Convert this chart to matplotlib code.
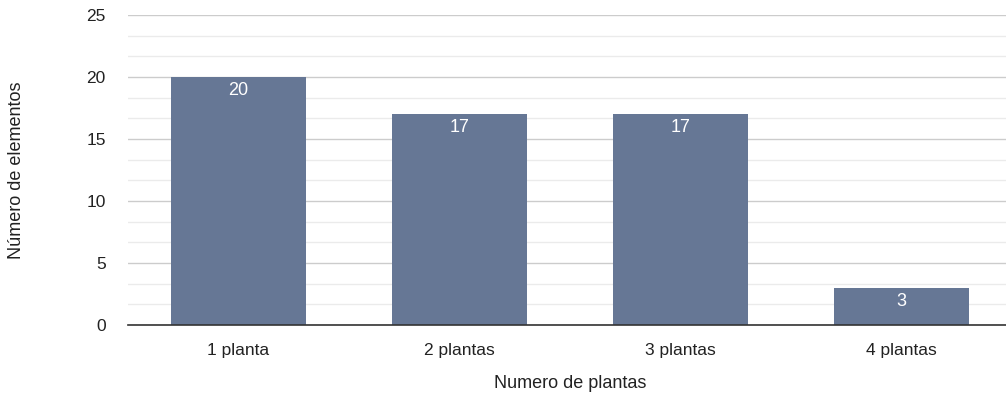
import matplotlib
matplotlib.use("Agg")
import matplotlib.pyplot as plt
import numpy as np
from matplotlib.ticker import MultipleLocator

categories = ["1 planta", "2 plantas", "3 plantas", "4 plantas"]
values = [20, 17, 17, 3]

plt.rcParams['font.family'] = ['Liberation Sans', 'DejaVu Sans']

fig = plt.figure(figsize=(10.06, 4.0), dpi=100)
ax = fig.add_axes([128/1006, 75/400, 884/1006, 310/400])

x = np.arange(len(categories))
bars = ax.bar(x, values, width=0.615, color="#667795", zorder=3)
for xi, v in zip(x, values):
    ax.text(xi, v - 0.4, str(v), ha="center", va="top", color="white", fontsize=13, zorder=4)

ax.set_xlim(-0.5, len(categories) - 0.5)
ax.set_ylim(0, 25)
ax.yaxis.set_major_locator(MultipleLocator(5))
ax.yaxis.set_minor_locator(MultipleLocator(5/3))
ax.grid(which="major", axis="y", color="#cccccc", linewidth=1, zorder=0)
ax.grid(which="minor", axis="y", color="#ebebeb", linewidth=1, zorder=0)
for s in ["top", "right", "left"]:
    ax.spines[s].set_visible(False)
ax.spines["bottom"].set_color("#333333")
ax.spines["bottom"].set_linewidth(1.2)
ax.spines["bottom"].set_zorder(5)
ax.tick_params(axis="both", which="both", length=0)
ax.tick_params(axis="y", pad=16, labelsize=12.5, labelcolor="#222222")
ax.tick_params(axis="x", pad=13, labelsize=12.5, labelcolor="#222222")
ax.set_xticks(x)
ax.set_xticklabels(categories)
ax.set_xlabel("Numero de plantas", fontsize=13, color="#222222")
ax.set_ylabel("Número de elementos", fontsize=13, color="#222222")

ax.xaxis.set_label_coords(570/1006, 1 - 384/400, transform=fig.transFigure)
ax.xaxis.label.set_va("center")
ax.yaxis.set_label_coords(17/1006, 1 - 170/400, transform=fig.transFigure)
ax.yaxis.label.set_va("center")

fig.savefig("out.png", dpi=100)
